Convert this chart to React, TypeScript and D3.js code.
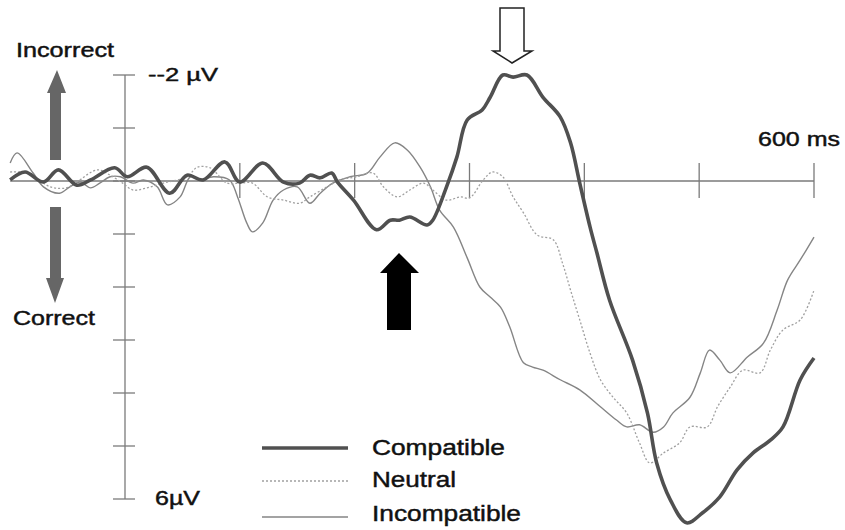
import React, { useEffect, useRef } from 'react';
import * as d3 from 'd3';

// time (ms) and amplitude (µV, positive = down)
const compatibleTime = [-100, -87, -71, -58, -42, -30, -9, 2, 19, 39, 54, 68, 87, 100, 120, 138, 152, 161, 170, 180, 185, 199, 219, 231, 239, 248, 263, 268, 280, 289, 298, 311, 318, 329, 338, 350, 364, 379, 388, 396, 405, 411, 422, 442, 455, 463, 475, 489, 503, 518, 533, 547, 562, 573, 588, 600];
const compatibleValue = [-0.02, -0.17, 0.02, -0.21, 0.08, -0.02, -0.25, -0.08, -0.26, 0.23, -0.11, -0.02, -0.36, 0.02, -0.34, 0.02, 0.04, -0.11, -0.06, -0.15, 0.02, 0.36, 0.92, 0.74, 0.74, 0.68, 0.83, 0.74, 0.11, -0.45, -1.15, -1.34, -1.58, -2.0, -1.96, -2.0, -1.58, -1.21, -0.72, 0.04, 0.87, 1.36, 2.25, 3.38, 4.38, 5.32, 6.02, 6.45, 6.26, 5.96, 5.45, 5.13, 4.89, 4.64, 3.75, 3.34];

const neutralTime = [-100, -85, -65, -51, -42, -24, -13, -2, 7, 19, 33, 54, 63, 74, 89, 100, 111, 124, 138, 152, 161, 176, 187, 202, 216, 225, 237, 248, 260, 268, 280, 292, 300, 312, 320, 329, 338, 347, 359, 373, 381, 388, 396, 405, 414, 425, 437, 448, 457, 469, 483, 492, 507, 516, 527, 538, 553, 562, 573, 588, 600];
const neutralValue = [-0.17, -0.15, 0.11, 0.13, 0.02, -0.21, -0.11, 0.04, 0.17, 0.13, 0.04, -0.08, -0.26, -0.25, 0.04, 0.04, 0.04, 0.3, 0.36, 0.42, 0.3, 0.11, -0.02, -0.08, -0.15, 0.11, 0.3, 0.17, 0.04, 0.17, 0.36, 0.3, 0.32, -0.02, -0.17, -0.08, 0.3, 0.6, 1.02, 1.11, 1.55, 2.06, 2.62, 3.25, 3.75, 4.08, 4.38, 4.94, 5.32, 5.13, 4.94, 4.64, 4.64, 4.26, 3.89, 3.57, 3.62, 3.19, 2.81, 2.62, 2.06];

const incompatibleTime = [-100, -94, -80, -71, -57, -48, -39, -30, -22, -13, -4, 7, 16, 28, 37, 48, 57, 65, 77, 91, 98, 106, 111, 120, 129, 138, 150, 161, 170, 181, 196, 211, 222, 235, 246, 257, 266, 274, 286, 298, 309, 318, 327, 335, 347, 355, 364, 379, 396, 414, 428, 437, 448, 460, 469, 477, 492, 501, 509, 518, 527, 542, 556, 568, 577, 588, 600];
const incompatibleValue = [-0.34, -0.53, -0.15, 0.11, 0.23, 0.11, 0.02, 0.13, 0.04, -0.08, -0.08, 0.04, -0.02, 0.11, 0.45, 0.3, -0.08, -0.02, -0.08, -0.02, 0.3, 0.79, 0.96, 0.79, 0.36, 0.17, 0.11, 0.42, 0.23, 0.04, -0.08, -0.15, -0.45, -0.72, -0.58, -0.26, 0.11, 0.55, 0.87, 1.45, 2.0, 2.19, 2.38, 2.75, 3.43, 3.51, 3.57, 3.75, 3.94, 4.26, 4.51, 4.64, 4.6, 4.74, 4.64, 4.38, 4.08, 3.62, 3.19, 3.38, 3.62, 3.32, 3.06, 2.43, 1.87, 1.49, 1.06];

const yTicks = [-2, -1, 0, 1, 2, 3, 4, 5, 6];
const xTicks = [100, 200, 300, 400, 500, 600];
const legendLabels = ['Compatible', 'Neutral', 'Incompatible'];

const App = () => {
  const ref = useRef(null);

  useEffect(() => {
    const svg = d3.select(ref.current);
    svg.selectAll('*').remove();

    const x = d3.scaleLinear().domain([0, 600]).range([125, 814]);
    const y = d3.scaleLinear().domain([0, 6]).range([181, 499]);
    const font = '"Liberation Sans", Arial, Helvetica, sans-serif';
    const axisColor = '#7a7a7a';

    // axes
    const axes = svg.append('g').attr('stroke', axisColor).attr('stroke-width', 1.3).attr('fill', 'none');
    axes.append('line').attr('x1', x(-100)).attr('x2', x(600)).attr('y1', y(0)).attr('y2', y(0));
    axes.append('line').attr('x1', x(0)).attr('x2', x(0)).attr('y1', y(-2)).attr('y2', y(6));
    axes.selectAll('.yt').data(yTicks).enter().append('line')
      .attr('x1', x(0) - 12).attr('x2', x(0) + 10)
      .attr('y1', (d) => y(d)).attr('y2', (d) => y(d));
    axes.selectAll('.xt').data(xTicks).enter().append('line')
      .attr('x1', (d) => x(d)).attr('x2', (d) => x(d))
      .attr('y1', y(0) - 18).attr('y2', y(0) + 17);

    const line = d3.line<[number, number]>()
      .x((d) => x(d[0]))
      .y((d) => y(d[1]))
      .curve(d3.curveCatmullRom.alpha(0.5));

    const series = [
      { t: incompatibleTime, v: incompatibleValue, color: '#858585', width: 1.4, dash: null },
      { t: neutralTime, v: neutralValue, color: '#a0a0a0', width: 1.3, dash: '2,2' },
      { t: compatibleTime, v: compatibleValue, color: '#505050', width: 3.6, dash: null },
    ];
    series.forEach((s) => {
      const pts = s.t.map((t, i) => [t, s.v[i]] as [number, number]);
      svg.append('path').datum(pts).attr('d', line)
        .attr('fill', 'none').attr('stroke', s.color).attr('stroke-width', s.width)
        .attr('stroke-linejoin', 'round')
        .attr('stroke-dasharray', s.dash);
    });

    const text = (tx, ty, str, len, size = 22) =>
      svg.append('text').attr('x', tx).attr('y', ty).attr('font-family', font)
        .attr('font-size', size).attr('fill', '#111')
        .attr('stroke', '#111').attr('stroke-width', 0.45)
        .attr('textLength', len).attr('lengthAdjust', 'spacingAndGlyphs').text(str);

    text(16, 57, 'Incorrect', 98, 20);
    text(13, 325, 'Correct', 82, 20);
    text(148, 81, '--2 \u00b5V', 70, 19);
    text(155, 505, '6\u00b5V', 45, 20);
    text(758, 146, '600 ms', 82, 20);

    // gray direction arrows
    svg.append('path')
      .attr('d', 'M50,160 L50,93 L47,93 L57,70 L66,93 L61,93 L61,160 Z')
      .attr('fill', '#666');
    svg.append('path')
      .attr('d', 'M50,207 L50,278 L46,278 L55,303 L64,278 L61,278 L61,207 Z')
      .attr('fill', '#666');

    // open arrow above the peak
    svg.append('path')
      .attr('d', 'M500,8 L524,8 L524,51 L532,51 L512,63 L493,51 L500,51 Z')
      .attr('fill', '#fff').attr('stroke', '#222').attr('stroke-width', 1.5);

    // filled black arrow
    svg.append('path')
      .attr('d', 'M387,330 L387,273 L380,273 L399,253 L419,273 L411,273 L411,330 Z')
      .attr('fill', '#000');

    // legend
    const lineY = [448, 481, 517];
    const textY = [455, 487, 521];
    const legendStyle = [series[2], series[1], series[0]];
    const labelLens = [133, 84, 149];
    legendLabels.forEach((lbl, i) => {
      const s = legendStyle[i];
      svg.append('line').attr('x1', 262).attr('x2', 348).attr('y1', lineY[i]).attr('y2', lineY[i])
        .attr('stroke', s.color).attr('stroke-width', s.width).attr('stroke-dasharray', s.dash);
      text(372, textY[i], lbl, labelLens[i], 22);
    });
  }, []);

  return (
    <svg ref={ref} width={845} height={530}
      style={{ position: 'absolute', left: 0, top: 0, background: '#fff' }} />
  );
};

export default App;
